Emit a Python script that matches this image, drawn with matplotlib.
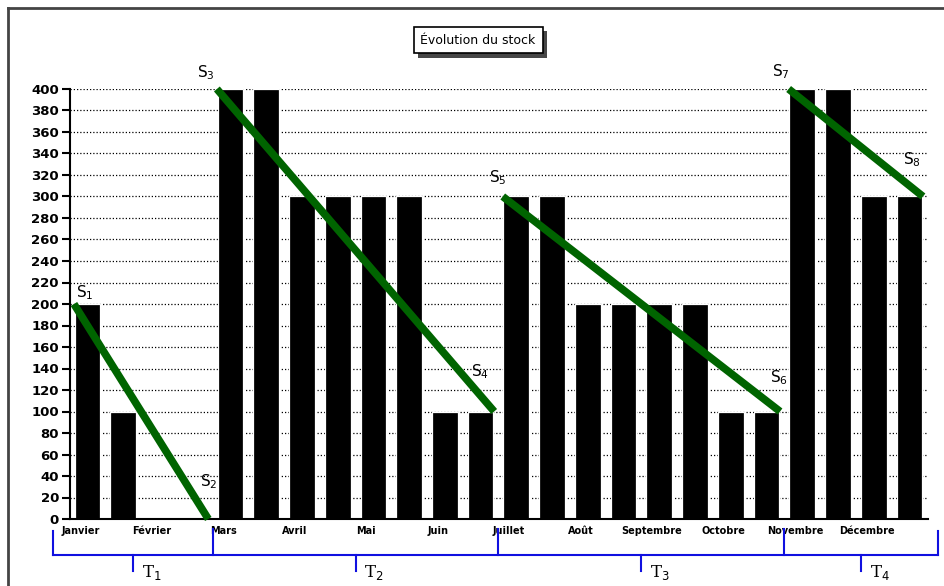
import numpy as np
import matplotlib
matplotlib.use('Agg')
import matplotlib.pyplot as plt
import matplotlib.transforms as mtransforms
import matplotlib.patheffects as pe
from matplotlib.lines import Line2D

# donnees
months = ['Janvier', 'Février', 'Mars', 'Avril', 'Mai', 'Juin', 'Juillet',
          'Août', 'Septembre', 'Octobre', 'Novembre', 'Décembre']
# deux barres par mois
stock = [200, 100, 0, 0, 400, 400, 300, 300, 300, 300, 100, 100,
         300, 300, 200, 200, 200, 200, 100, 100, 400, 400, 300, 300]
# trimestres (indices de mois)
q_first_month = [0, 2, 6, 10]
q_last_month = [1, 5, 9, 11]
q_labels = ['T$_1$', 'T$_2$', 'T$_3$', 'T$_4$']
s_start = [200, 400, 300, 400]
s_end = [0, 100, 100, 300]
s_labels = ['S$_%d$' % i for i in range(1, 9)]
# decalage des etiquettes S (pixels)
s_offsets = [(11, 11), (0, 37), (-11, 16), (-14, 40),
             (-5, 19), (-1, 34), (-8, 17), (-11, 37)]

fig = plt.figure(figsize=(9.44, 5.86), dpi=100)
ax = fig.add_axes([70/944, 1-519/586, (928-70)/944, (519-89)/586])

x = np.arange(len(stock))
ax.bar(x, stock, width=0.72, color='black', edgecolor='white', linewidth=0.9, zorder=3)

ax.set_xlim(-0.49, 23.52)
ax.set_ylim(0, 400)
ax.set_yticks(np.arange(0, 401, 20))
ax.tick_params(axis='y', direction='out', length=6, width=1.5, labelsize=9.5, pad=2)
for lab in ax.get_yticklabels():
    lab.set_fontweight('bold')
for yv in np.arange(20, 401, 20):
    ax.axhline(yv, color='black', lw=0.9, ls=(0, (1, 1.6)), zorder=1)

ax.set_xticks([2*i - 0.2 for i in range(12)])
ax.set_xticklabels(months, fontsize=7, fontweight='bold')
ax.tick_params(axis='x', length=0, pad=5)

for sp in ['top', 'right']:
    ax.spines[sp].set_visible(False)
for sp in ['left', 'bottom']:
    ax.spines[sp].set_linewidth(1.5)
    ax.spines[sp].set_zorder(4)

# droites S
k = 0
for q in range(4):
    b0 = 2*q_first_month[q]
    b1 = 2*q_last_month[q] + 1
    xs = [b0 - 0.38, b1 + 0.38]
    ys = [s_start[q], s_end[q]]
    ax.plot(xs, ys, color='#006400', lw=5.5, solid_capstyle='butt', zorder=5, clip_on=False)
    for xx, yy in zip(xs, ys):
        ax.annotate(s_labels[k], (xx, yy), xytext=s_offsets[k], textcoords='offset pixels',
                    ha='center', va='center', fontsize=11, annotation_clip=False)
        k += 1

# accolades trimestres
trans = mtransforms.blended_transform_factory(ax.transData, fig.transFigure)
def fy(p):
    return 1 - p/586
bounds = [2*m - 0.5 for m in q_first_month] + [23.5]
bounds[0] -= 0.47
bounds[-1] += 0.3
blue = '#1010e0'
ax.plot([bounds[0], bounds[-1]], [fy(555), fy(555)], color=blue, lw=1.5, transform=trans, clip_on=False)
for i, b in enumerate(bounds):
    top = 531 if i in (0, len(bounds)-1) else 529
    ax.plot([b, b], [fy(top), fy(555)], color=blue, lw=1.5, transform=trans, clip_on=False)
for q in range(4):
    mid = (bounds[q] + bounds[q+1]) / 2
    ax.plot([mid, mid], [fy(555), fy(571)], color=blue, lw=1.5, transform=trans, clip_on=False)
    ax.text(mid + 0.25, fy(573), q_labels[q], transform=trans, fontsize=12,
            family='DejaVu Serif', ha='left', va='center')

# titre
t = fig.text(478/944, 1-40/586, 'Évolution du stock', ha='center', va='center', fontsize=9,
             bbox=dict(boxstyle='square,pad=0.55', fc='white', ec='black', lw=1.2))
t.get_bbox_patch().set_path_effects([pe.SimplePatchShadow(offset=(3, -3), shadow_rgbFace='#333333', alpha=0.9),
                                     pe.Normal()])

# cadre
fig.add_artist(Line2D([8/944, 8/944], [0, 1-8/586], color='#444444', lw=2))
fig.add_artist(Line2D([8/944, 1], [1-8/586, 1-8/586], color='#444444', lw=2))

fig.savefig('out.png', dpi=100)
